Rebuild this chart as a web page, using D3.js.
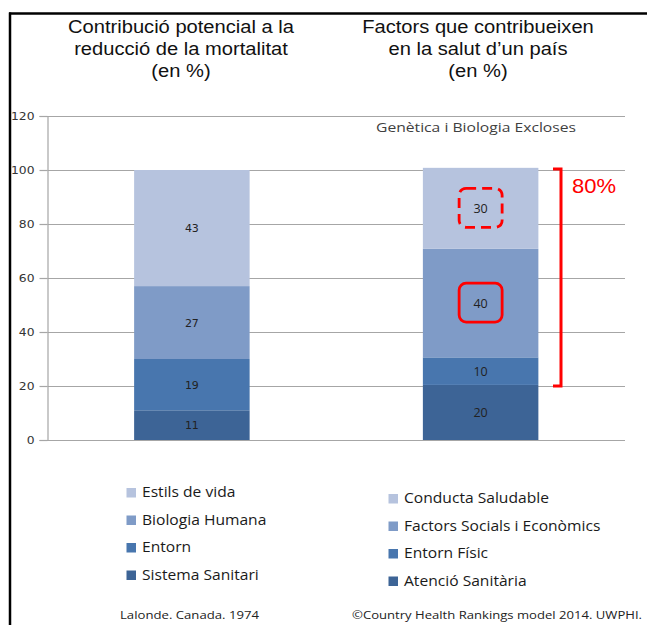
<!DOCTYPE html>
<html>
<head>
<meta charset="utf-8">
<script src="https://cdn.jsdelivr.net/npm/d3@7"></script>
<style>
  html, body { margin: 0; padding: 0; background: #fff; }
  svg { display: block; }
</style>
</head>
<body>
<div id="chart"></div>
<script>
// ---------- DATA ----------
const categories = ["Lalonde", "CHR"];
const seriesLeft = ["Sistema Sanitari", "Entorn", "Biologia Humana", "Estils de vida"];
const seriesRight = ["Atenció Sanitària", "Entorn Físic", "Factors Socials i Econòmics", "Conducta Saludable"];
const valuesLeft = [11, 19, 27, 43];
const valuesRight = [20.4, 10.2, 40.2, 30];
const yTicks = [0, 20, 40, 60, 80, 100, 120];
const titleLeft = ["Contribució potencial a la", "reducció de la mortalitat", "(en %)"];
const titleRight = ["Factors que contribueixen", "en la salut d\u2019un país", "(en %)"];
const noteRight = "Genètica i Biologia Excloses";
const bracketLabel = "80%";
const bracketRange = [30, 100];
const sourceLeft = "Lalonde. Canada. 1974";
const sourceRight = "\u00A9Country Health Rankings model 2014. UWPHI.";
const colors = ["#3d6496", "#4876ae", "#7f9bc7", "#b6c3de"];

// ---------- SETUP ----------
const W = 647, H = 625;
const svg = d3.select("#chart").append("svg").attr("width", W).attr("height", H);

const plot = { left: 47.5, right: 625, top: 116, bottom: 440 };
const x = d3.scaleBand().domain(categories).range([plot.left, plot.right]).paddingInner(0.6).paddingOuter(0.3);
const y = d3.scaleLinear().domain([0, 120]).range([plot.bottom, plot.top]);

// horizontal stretch helper (reference text is slightly widened)
function stretch(sel, k) {
  sel.each(function () {
    const w = this.getComputedTextLength();
    d3.select(this).attr("textLength", w * k).attr("lengthAdjust", "spacingAndGlyphs");
  });
}

// frame
svg.append("line").attr("x1", 9).attr("x2", W).attr("y1", 13.5).attr("y2", 13.5).attr("stroke", "#000").attr("stroke-width", 2.5);
svg.append("line").attr("x1", 10).attr("x2", 10).attr("y1", 12.5).attr("y2", H).attr("stroke", "#000").attr("stroke-width", 2.5);

// titles
function title(lines, cx) {
  lines.forEach((l, i) => {
    const t = svg.append("text").attr("font-family", "Liberation Sans, Arial, sans-serif").attr("font-size", 17.5)
      .attr("fill", "#111").attr("text-anchor", "middle").attr("x", cx).attr("y", 33 + i * 22).text(l);
    stretch(t, 1.15);
  });
}
title(titleLeft, 181);
title(titleRight, 478);

// gridlines
svg.append("g").selectAll("line").data(yTicks.filter(d => d > 0)).join("line")
  .attr("x1", plot.left).attr("x2", plot.right)
  .attr("y1", d => Math.round(y(d)) + 0.5).attr("y2", d => Math.round(y(d)) + 0.5)
  .attr("stroke", "#a6a6a6").attr("stroke-width", 1.2);

// y axis
const yAxis = d3.axisLeft(y).tickValues(yTicks).tickSize(8).tickPadding(5);
const ga = svg.append("g").attr("transform", `translate(${plot.left},0)`).call(yAxis);
ga.select(".domain").attr("stroke", "#a6a6a6").attr("stroke-width", 1.2);
ga.selectAll(".tick line").attr("stroke", "#a6a6a6").attr("stroke-width", 1.2);
ga.selectAll(".tick text").attr("font-family", "DejaVu Sans, Verdana, sans-serif").attr("font-size", 11).attr("fill", "#333");
stretch(ga.selectAll(".tick text"), 1.12);

// stacks
function stackData(vals) {
  let acc = 0;
  return vals.map((v, i) => { const d = { y0: acc, y1: acc + v, v, i }; acc += v; return d; });
}
const bars = [
  { cat: categories[0], data: stackData(valuesLeft), font: "DejaVu Sans, Verdana, sans-serif", fs: 11 },
  { cat: categories[1], data: stackData(valuesRight), font: "Open Sans, Lato, sans-serif", fs: 12.5 }
];
bars.forEach(b => {
  const g = svg.append("g");
  g.selectAll("rect").data(b.data).join("rect")
    .attr("x", x(b.cat)).attr("width", x.bandwidth())
    .attr("y", d => y(d.y1)).attr("height", d => y(d.y0) - y(d.y1))
    .attr("fill", d => colors[d.i]);
  g.selectAll("text").data(b.data).join("text")
    .attr("x", x(b.cat) + x.bandwidth() / 2)
    .attr("y", d => y((d.y0 + d.y1) / 2))
    .attr("dy", "0.36em")
    .attr("text-anchor", "middle")
    .attr("font-family", b.font).attr("font-size", b.fs).attr("fill", "#222")
    .text(d => Math.round(d.v));
});

// bottom axis line
svg.append("line").attr("x1", plot.left).attr("x2", plot.right).attr("y1", plot.bottom + 0.5).attr("y2", plot.bottom + 0.5)
  .attr("stroke", "#a6a6a6").attr("stroke-width", 1.2);

// note
const note = svg.append("text").attr("x", 376).attr("y", 132).attr("font-family", "Open Sans, Lato, sans-serif").attr("font-size", 13)
  .attr("fill", "#404040").text(noteRight);
stretch(note, 200 / note.node().getComputedTextLength());

// red annotations
const rb = bars[1].data;
const cx2 = x(categories[1]) + x.bandwidth() / 2;
[[rb[3], true], [rb[2], false]].forEach(([d, dashed]) => {
  const cy = y((d.y0 + d.y1) / 2);
  svg.append("rect").attr("x", cx2 - 21.5).attr("y", cy - 20).attr("width", 43).attr("height", 39)
    .attr("rx", 7).attr("ry", 7).attr("fill", "none").attr("stroke", "#ff0000").attr("stroke-width", 2.8)
    .attr("stroke-dasharray", dashed ? "10,6" : null);
});
const bx = 561;
const by0 = y(bracketRange[1]) - 1, by1 = y(bracketRange[0]) + 27;
svg.append("path")
  .attr("d", `M${bx - 8},${by0} L${bx},${by0} L${bx},${by1} L${bx - 8},${by1}`)
  .attr("fill", "none").attr("stroke", "#ff0000").attr("stroke-width", 3);
const lbl = svg.append("text").attr("x", 572).attr("y", 193).attr("font-family", "Liberation Sans, Arial, sans-serif").attr("font-size", 20.5)
  .attr("fill", "#ff0000").text(bracketLabel);
stretch(lbl, 44 / lbl.node().getComputedTextLength());

// legends
function legend(names, lx, ly) {
  const order = names.slice().reverse();
  const cs = colors.slice().reverse();
  const g = svg.append("g");
  order.forEach((n, i) => {
    const yy = ly + i * 27.5;
    g.append("rect").attr("x", lx).attr("y", yy - 4.5).attr("width", 9.5).attr("height", 9.5).attr("fill", cs[i]);
    g.append("text").attr("x", lx + 15.5).attr("y", yy).attr("dy", "0.35em")
      .attr("font-family", "Open Sans, Lato, sans-serif").attr("font-size", 14).attr("fill", "#1a1a1a").text(n);
  });
  stretch(g.selectAll("text"), 1.115);
}
legend(seriesLeft, 126.5, 492.5);
legend(seriesRight, 388.5, 498.5);

// sources
const s1 = svg.append("text").attr("x", 120).attr("y", 615).attr("dy", "0.35em").attr("font-family", "Open Sans, Lato, sans-serif")
  .attr("font-size", 11.5).attr("fill", "#222").text(sourceLeft);
stretch(s1, 139 / s1.node().getComputedTextLength());
const s2 = svg.append("text").attr("x", 352).attr("y", 615).attr("dy", "0.35em").attr("font-family", "Open Sans, Lato, sans-serif")
  .attr("font-size", 11.5).attr("fill", "#222").text(sourceRight);
stretch(s2, 290 / s2.node().getComputedTextLength());
</script>
</body>
</html>
